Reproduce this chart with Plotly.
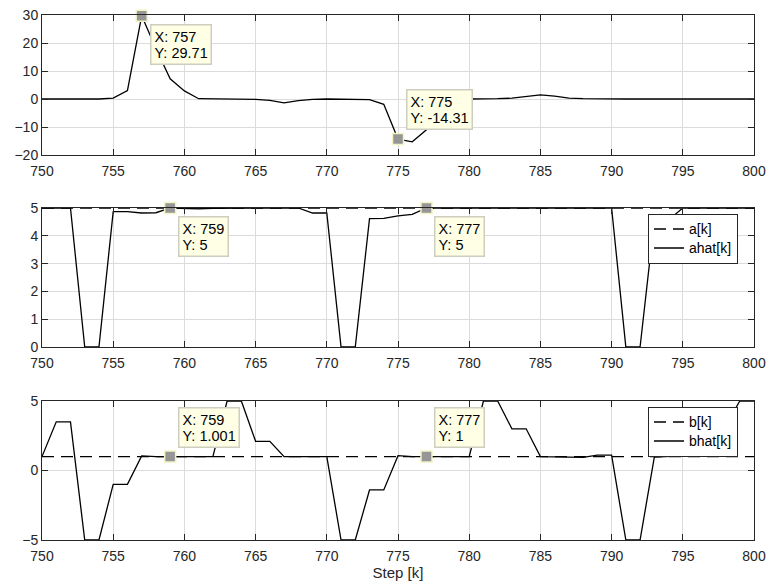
import plotly.graph_objects as go

# ---- data -------------------------------------------------------------
steps = list(range(750, 801))

# prediction error e[k]
error_k = [0, 0, 0, 0, 0, 0.3, 3.0, 29.71, 18.0, 7.2,
           2.9, 0.1, 0, 0, 0, -0.1, -0.5, -1.4, -0.6, -0.1,
           0, 0, 0, -0.2, -1.9, -14.31, -15.3, -11.0, -4.0, -0.5,
           0, 0, 0.1, 0.3, 0.8, 1.5, 1.0, 0.3, 0.1, 0,
           0, 0, 0, 0, 0, 0, 0, 0, 0, 0, 0]

# true parameters and their estimates
A_TRUE = 5.0
B_TRUE = 1.0
ahat_k = [5, 5, 5, 0, 0, 4.87, 4.87, 4.82, 4.83, 5,
          4.98, 4.97, 4.99, 5, 5, 5, 5, 5, 5, 4.82,
          4.82, 0, 0, 4.62, 4.63, 4.72, 4.77, 5, 5, 5,
          5, 5, 5, 5, 5, 5, 5, 5, 5, 5,
          5, 0, 0, 4.55, 4.57, 5, 5, 5, 5, 5, 5]
bhat_k = [1.0, 3.5, 3.5, -5, -5, -1.0, -1.0, 1.05, 1.0, 1.001,
          1.0, 1.0, 1.0, 5, 5, 2.1, 2.1, 1.0, 1.0, 1.0,
          1.0, -5, -5, -1.4, -1.4, 1.07, 1.0, 1.0, 1.0, 1.0,
          1.0, 5, 5, 3.0, 3.0, 1.0, 1.0, 0.95, 0.95, 1.1,
          1.1, -5, -5, 0.97, 1.0, 1.05, 1.1, 2.1, 3.2, 5, 5]
a_k = [A_TRUE] * len(steps)
b_k = [B_TRUE] * len(steps)

# data-cursor positions per panel
tips_e = [757, 775]
tips_a = [759, 777]
tips_b = [759, 777]

x_ticks = [750, 755, 760, 765, 770, 775, 780, 785, 790, 795, 800]
y_ticks_e = [-20, -10, 0, 10, 20, 30]
y_ticks_a = [0, 1, 2, 3, 4, 5]
y_ticks_b = [-5, 0, 5]

# ---- styling ----------------------------------------------------------
W, H = 766, 582
FONT = "Liberation Sans, Arial, Helvetica, sans-serif"
INK = "#262626"
GRID = "#dcdcdc"
LINE_W = 1.3

x_dom = [42 / W, 754 / W]
def ydom(top_px, bot_px):
    return [1 - bot_px / H, 1 - top_px / H]

def big(txt, px):
    # larger glyphs while the line pitch follows the smaller base font
    return f"<span style='font-size:{px}px'>{txt}</span>"

fig = go.Figure()

def line(x, y, xa, ya, name, dash="solid", legend=None, show=False):
    fig.add_trace(go.Scatter(
        x=x, y=y, mode="lines", name=big(name, 14), xaxis=xa, yaxis=ya,
        line=dict(color="black", width=LINE_W, dash=dash),
        showlegend=show, legend=legend, hoverinfo="skip"))

line(steps, error_k, "x", "y", "e[k]")
line(steps, a_k, "x2", "y2", "a[k]", dash="12px,7px", legend="legend", show=True)
line(steps, ahat_k, "x2", "y2", "ahat[k]", legend="legend", show=True)
line(steps, b_k, "x3", "y3", "b[k]", dash="12px,7px", legend="legend2", show=True)
line(steps, bhat_k, "x3", "y3", "bhat[k]", legend="legend2", show=True)

annotations = []

def add_tips(tip_steps, series, xa, ya, place):
    xs = list(tip_steps)
    ys = [series[steps.index(s)] for s in xs]
    fig.add_trace(go.Scatter(
        x=xs, y=ys, mode="markers", xaxis=xa, yaxis=ya, showlegend=False,
        cliponaxis=False, hoverinfo="skip",
        marker=dict(symbol="square", size=11, color="#969696",
                    line=dict(color="#f3f3c4", width=1.5))))
    for (sx, sy), pos in zip(zip(xs, ys), place):
        annotations.append(dict(
            x=sx, y=sy, xref=xa, yref=ya, showarrow=False,
            text=big(f"X: {sx}", 14.5) + "<br>" + big(f"Y: {sy:.4g}", 14.5),
            align="left", xanchor="left", yanchor=pos, xshift=8,
            yshift=-8 if pos == "top" else 9,
            bgcolor="#ffffe6", bordercolor="#cdcdc0", borderwidth=1.5,
            borderpad=3, font=dict(family=FONT, size=12.5, color="black")))

add_tips(tips_e, error_k, "x", "y", ["top", "bottom"])
add_tips(tips_a, ahat_k, "x2", "y2", ["top", "top"])
add_tips(tips_b, bhat_k, "x3", "y3", ["bottom", "bottom"])

def xaxis(anchor, title=None):
    d = dict(domain=x_dom, anchor=anchor, range=[750, 800], automargin=False,
             tickmode="array", tickvals=x_ticks, ticklabelstandoff=3,
             showgrid=True, gridcolor=GRID, gridwidth=1, zeroline=False,
             showline=True, linecolor=INK, linewidth=1, mirror="ticks",
             ticks="inside", ticklen=6, tickcolor=INK, tickwidth=1,
             tickfont=dict(family=FONT, size=14, color=INK))
    if title:
        d["title"] = dict(text=title, standoff=0,
                          font=dict(family=FONT, size=15, color=INK))
    return d

def yaxis(anchor, dom, rng, ticks):
    return dict(domain=dom, anchor=anchor, range=rng, automargin=False,
                tickmode="array", tickvals=ticks,
                showgrid=True, gridcolor=GRID, gridwidth=1, zeroline=False,
                showline=True, linecolor=INK, linewidth=1, mirror="ticks",
                ticks="inside", ticklen=6, tickcolor=INK, tickwidth=1,
                tickfont=dict(family=FONT, size=14, color=INK))

legend_style = dict(bgcolor="white", bordercolor=INK, borderwidth=1,
                    font=dict(family=FONT, size=12, color="black"),
                    xanchor="right", yanchor="middle", traceorder="normal",
                    itemwidth=30, tracegroupgap=0)

fig.update_layout(
    width=W, height=H, margin=dict(l=0, r=0, t=0, b=0),
    paper_bgcolor="white", plot_bgcolor="white",
    xaxis=xaxis("y"), xaxis2=xaxis("y2"), xaxis3=xaxis("y3", "Step [k]"),
    yaxis=yaxis("x", ydom(15, 155), [-20, 30], y_ticks_e),
    yaxis2=yaxis("x2", ydom(208, 347), [0, 5], y_ticks_a),
    yaxis3=yaxis("x3", ydom(401, 540), [-5, 5], y_ticks_b),
    legend=dict(x=738 / W, y=1 - 238.5 / H, **legend_style),
    legend2=dict(x=738 / W, y=1 - 431.5 / H, **legend_style),
    annotations=annotations,
    hovermode=False,
)

fig.write_html("out.html")
